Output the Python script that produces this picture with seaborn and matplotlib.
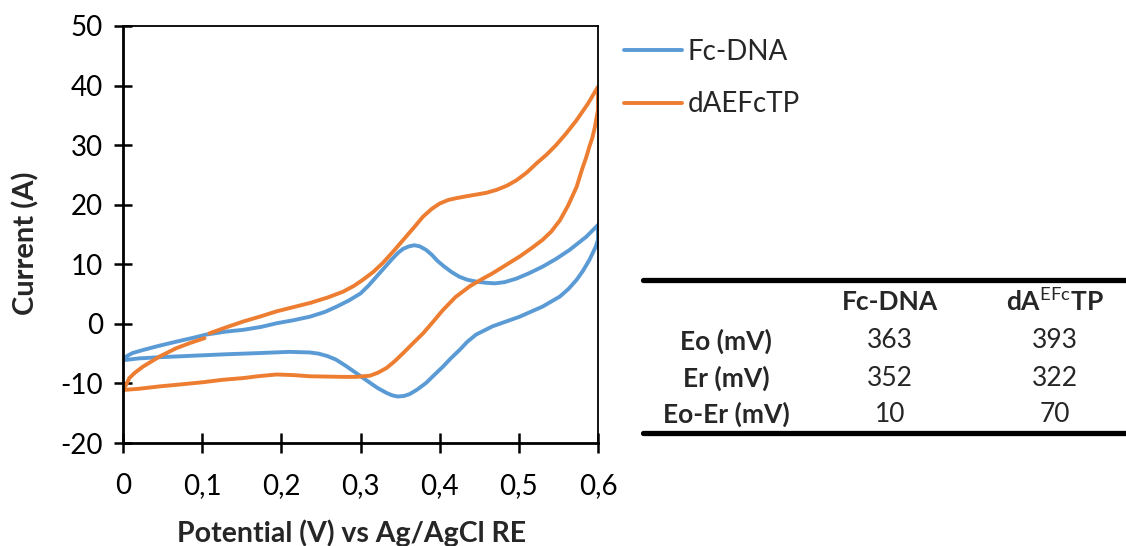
import matplotlib
matplotlib.use("Agg")
import matplotlib.pyplot as plt
from matplotlib.lines import Line2D
import numpy as np
import pandas as pd
import seaborn as sns

# ---- data ----
fc_fwd_x = [0.000, 0.005, 0.012, 0.025, 0.045, 0.067, 0.090, 0.105, 0.130, 0.152, 0.175, 0.194,
            0.215, 0.236, 0.255, 0.270, 0.285, 0.300, 0.310, 0.320, 0.330, 0.340, 0.348, 0.354,
            0.361, 0.368, 0.375, 0.383, 0.390, 0.397, 0.405, 0.415, 0.425, 0.435, 0.446, 0.458,
            0.470, 0.482, 0.497, 0.513, 0.530, 0.547, 0.564, 0.585, 0.600]
fc_fwd_y = [-6.1, -5.4, -4.9, -4.4, -3.7, -3.0, -2.3, -1.8, -1.3, -1.0, -0.5, 0.1,
            0.6, 1.2, 2.0, 2.9, 3.9, 5.1, 6.4, 7.9, 9.4, 10.9, 12.0, 12.6,
            13.0, 13.2, 13.0, 12.4, 11.6, 10.6, 9.7, 8.7, 7.9, 7.4, 7.1, 6.9,
            6.8, 7.0, 7.6, 8.5, 9.6, 10.9, 12.4, 14.6, 16.6]
fc_rev_x = [0.600, 0.597, 0.593, 0.589, 0.581, 0.573, 0.563, 0.552, 0.530, 0.501, 0.467, 0.446,
            0.435, 0.425, 0.414, 0.404, 0.393, 0.383, 0.372, 0.362, 0.355, 0.347, 0.340, 0.333,
            0.322, 0.312, 0.295, 0.282, 0.269, 0.258, 0.247, 0.236, 0.210, 0.173, 0.131, 0.097,
            0.046, 0.020, 0.000]
fc_rev_y = [14.1, 12.9, 11.8, 10.7, 8.9, 7.4, 5.9, 4.6, 2.9, 1.2, -0.4, -1.8,
            -3.0, -4.4, -5.8, -7.2, -8.6, -9.9, -11.0, -11.8, -12.1, -12.2, -12.0, -11.6,
            -10.8, -9.9, -8.3, -7.1, -6.0, -5.4, -5.0, -4.8, -4.7, -4.9, -5.1, -5.3,
            -5.6, -5.8, -6.1]

da_fwd1_x = [0.000, 0.004, 0.008, 0.015, 0.025, 0.046, 0.067, 0.085, 0.103]
da_fwd1_y = [-11.1, -10.2, -9.1, -8.2, -7.2, -5.5, -4.1, -3.2, -2.4]
da_fwd2_x = [0.109, 0.130, 0.152, 0.175, 0.194, 0.215, 0.236, 0.258, 0.278, 0.292, 0.303, 0.316,
             0.328, 0.341, 0.354, 0.367, 0.379, 0.390, 0.400, 0.411, 0.421, 0.433, 0.446, 0.459,
             0.472, 0.485, 0.497, 0.510, 0.522, 0.535, 0.547, 0.560, 0.573, 0.587, 0.600]
da_fwd2_y = [-1.6, -0.6, 0.4, 1.3, 2.1, 2.8, 3.5, 4.4, 5.4, 6.4, 7.4, 8.7,
             10.2, 12.1, 14.1, 16.1, 18.0, 19.3, 20.2, 20.8, 21.1, 21.4, 21.7, 22.0,
             22.5, 23.2, 24.1, 25.4, 26.9, 28.4, 30.0, 32.0, 34.2, 36.9, 39.8]
da_rev_x = [0.600, 0.598, 0.596, 0.593, 0.589, 0.585, 0.580, 0.573, 0.562, 0.552, 0.541, 0.530,
            0.516, 0.501, 0.484, 0.467, 0.452, 0.438, 0.420, 0.404, 0.392, 0.379, 0.366, 0.354,
            0.343, 0.333, 0.322, 0.312, 0.295, 0.278, 0.236, 0.215, 0.194, 0.170, 0.152, 0.125,
            0.101, 0.070, 0.046, 0.020, 0.000]
da_rev_y = [35.9, 34.5, 33.0, 31.3, 29.7, 27.9, 26.0, 23.0, 19.8, 17.4, 15.5, 14.1,
            12.7, 11.3, 9.9, 8.5, 7.4, 6.3, 4.5, 2.3, 0.4, -1.6, -3.3, -4.9,
            -6.3, -7.4, -8.2, -8.7, -8.9, -8.9, -8.8, -8.6, -8.5, -8.8, -9.1, -9.4,
            -9.8, -10.2, -10.5, -10.9, -11.1]

series_names = ["Fc-DNA", "dAEFcTP"]
x_ticks = [0, 0.1, 0.2, 0.3, 0.4, 0.5, 0.6]
x_tick_labels = ["0", "0,1", "0,2", "0,3", "0,4", "0,5", "0,6"]
y_ticks = [-20, -10, 0, 10, 20, 30, 40, 50]

table_cols = ["Fc-DNA", r"$\mathbf{dA}^{\mathrm{EFc}}\mathbf{TP}$"]
table_rows = ["Eo (mV)", "Er (mV)", "Eo-Er (mV)"]
table_fc = ["363", "352", "10"]
table_da = ["393", "322", "70"]

# ---- build long table ----
frames = []
def add(xs, ys, name, seg):
    frames.append(pd.DataFrame({"x": xs, "y": ys, "series": name, "seg": seg}))
add(fc_fwd_x + fc_rev_x, fc_fwd_y + fc_rev_y, series_names[0], "fc")
add(da_fwd1_x, da_fwd1_y, series_names[1], "da1")
add(da_fwd2_x + da_rev_x, da_fwd2_y + da_rev_y, series_names[1], "da2")
df = pd.concat(frames, ignore_index=True)

sns.set_theme(style="white")
FONT = ["Lato", "DejaVu Sans"]
plt.rcParams["font.family"] = FONT
plt.rcParams["mathtext.fontset"] = "custom"
plt.rcParams["mathtext.rm"] = "Lato"
plt.rcParams["mathtext.bf"] = "Lato:bold"

W, H = 1126, 546
fig = plt.figure(figsize=(W / 100, H / 100), dpi=100)
ax = fig.add_axes([123 / W, 1 - 443 / H, (598 - 123) / W, (443 - 26) / H])

palette = {"Fc-DNA": "#5B9BD5", "dAEFcTP": "#ED7D31"}
LW = 2.8
sns.lineplot(data=df, x="x", y="y", hue="series", units="seg", estimator=None,
             sort=False, palette=palette, linewidth=LW, ax=ax, legend=True)
for ln in ax.lines:
    ln.set_solid_joinstyle("round")
    ln.set_solid_capstyle("round")

ax.set_xlim(0, 0.6)
ax.set_ylim(-20, 50)
ax.set_xticks(x_ticks)
ax.set_xticklabels(x_tick_labels)
ax.set_yticks(y_ticks)
ax.set_yticklabels([str(v) for v in y_ticks])
ax.tick_params(axis="both", labelsize=20, colors="black", width=1.8)
ax.tick_params(axis="y", direction="inout", length=13, pad=8, left=True)
ax.tick_params(axis="x", direction="inout", length=15, pad=14, bottom=True)
for s in ["left", "bottom"]:
    ax.spines[s].set_color("black")
    ax.spines[s].set_linewidth(2.0)
for s in ["top", "right"]:
    ax.spines[s].set_color("black")
    ax.spines[s].set_linewidth(1.3)
ax.set_xlabel("Potential (V) vs Ag/AgCl RE", fontsize=20.5, fontweight="bold")
ax.set_ylabel("Current (A)", fontsize=21, fontweight="bold")
ax.xaxis.set_label_coords((352 - 123) / 475, -(533 - 443) / 417, transform=ax.transAxes)
ax.xaxis.label.set_va("center")
ax.yaxis.set_label_coords(-(123 - 26) / 475, (443 - 243) / 417, transform=ax.transAxes)
ax.yaxis.label.set_va("center")

handles, labels = ax.get_legend_handles_labels()
for h in handles:
    h.set_linewidth(LW)
ax.legend(handles, labels, loc="upper left", bbox_to_anchor=(613 / W, 1 - 28 / H),
          bbox_transform=fig.transFigure, frameon=False, fontsize=20,
          handlelength=2.1, handletextpad=0.2, labelspacing=0.95, borderaxespad=0)

# ---- table ----
def fx(px):
    return px / W
def fy(py):
    return 1 - py / H
fig.add_artist(Line2D([fx(643), fx(1126)], [fy(280), fy(280)], color="black", linewidth=3.8,
                      transform=fig.transFigure))
fig.add_artist(Line2D([fx(643), fx(1126)], [fy(433), fy(433)], color="black", linewidth=3.8,
                      transform=fig.transFigure))
col_x = [890, 1055]
lab_x = 726
TFS = 19
fig.text(fx(col_x[0]), fy(302), table_cols[0], ha="center", va="center", fontsize=TFS, fontweight="bold")
fig.text(fx(col_x[1]), fy(302), table_cols[1], ha="center", va="center", fontsize=TFS)
row_y = [341, 378, 414]
for i, r in enumerate(table_rows):
    fig.text(fx(lab_x), fy(row_y[i]), r, ha="center", va="center", fontsize=TFS, fontweight="bold")
    fig.text(fx(col_x[0]), fy(row_y[i]), table_fc[i], ha="center", va="center", fontsize=TFS)
    fig.text(fx(col_x[1]), fy(row_y[i]), table_da[i], ha="center", va="center", fontsize=TFS)

fig.savefig("out.png", dpi=100)
